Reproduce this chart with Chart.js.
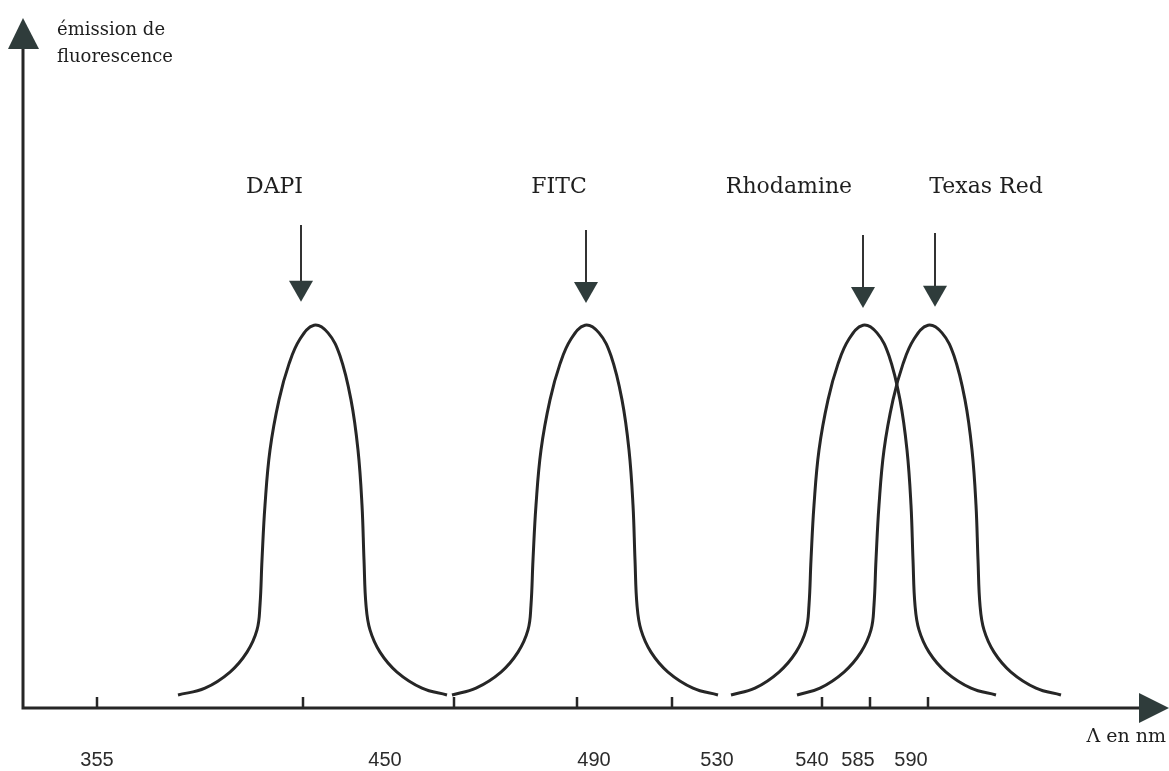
<!DOCTYPE html>
<html><head><meta charset="utf-8">
<script src="https://cdn.jsdelivr.net/npm/chart.js@4.4.0/dist/chart.umd.min.js"></script>
<style>html,body{margin:0;padding:0;background:#fff}#wrap{width:1169px;height:771px}</style>
</head><body><div id="wrap"><canvas id="c" width="1169" height="771"></canvas></div>
<script>
// Fluorophores (categories)
const fluorophores = ['DAPI', 'FITC', 'Rhodamine', 'Texas Red'];
// Emission profile (relative intensity, peak = 100), sampled along each curve's outline
const profile = [3.4, 5.2, 9.4, 14.6, 20.4, 26.9, 38.7, 53.0, 67.4, 80.5, 89.9, 96.4, 100, 98.0, 92.0, 80.5, 67.4, 53.0, 38.7, 26.9, 20.4, 14.6, 9.4, 5.2, 3.4];
// Positions along the (schematic) wavelength axis for each emission curve outline
const dapiX  = [178, 205, 230, 247, 257, 260, 262, 265, 270, 279, 289, 300, 314, 328, 340, 351, 358, 362, 364, 366, 370, 380, 397, 422, 447];
const fitcX  = [452, 476, 501, 518, 528, 531, 533, 536, 541, 550, 560, 571, 585, 599, 611, 622, 629, 633, 635, 637, 641, 651, 668, 693, 718];
const rhodX  = [731, 755, 779, 796, 806, 809, 811, 814, 819, 828, 838, 849, 863, 877, 889, 900, 907, 911, 913, 915, 919, 929, 946, 971, 996];
const texasX = [797, 820, 844, 861, 871, 874, 876, 879, 884, 893, 903, 914, 928, 942, 954, 965, 972, 976, 978, 980, 984, 994, 1011, 1036, 1061];
// Excitation arrows (position on axis, top and tip in intensity units)
const arrowX   = [301, 586, 863, 935];
const arrowTop = [126.2, 124.9, 123.6, 124.1];
const arrowTip = [106.1, 105.8, 104.5, 104.8];
const nameX    = [274.5, 559, 789, 986];
const nameY    = 134.5;
// Axis tick marks and tick labels (nm)
const tickPositions  = [97, 303, 454, 577, 672, 822, 870, 928];
const tickLabels     = ['355', '450', '490', '530', '540', '585', '590'];
const labelPositions = [97, 385, 594, 717, 812, 858, 911];

const seriesX = [dapiX, fitcX, rhodX, texasX];
const INK = '#262626', HEAD = '#2f3c3b';

const overlay = {
  id: 'overlay',
  afterDraw(chart) {
    const {ctx, chartArea: a, scales: {x, y}} = chart;
    ctx.save();
    // tick marks (pointing up)
    ctx.strokeStyle = INK; ctx.lineWidth = 2.5;
    tickPositions.forEach(v => {
      const px = x.getPixelForValue(v);
      ctx.beginPath(); ctx.moveTo(px, a.bottom); ctx.lineTo(px, a.bottom - 11); ctx.stroke();
    });
    // axes
    ctx.lineWidth = 3; ctx.lineJoin = 'miter';
    ctx.beginPath();
    ctx.moveTo(a.left, a.top + 28); ctx.lineTo(a.left, a.bottom); ctx.lineTo(a.right - 26, a.bottom);
    ctx.stroke();
    ctx.fillStyle = HEAD;
    ctx.beginPath(); ctx.moveTo(a.left, a.top - 1); ctx.lineTo(a.left - 15, a.top + 30); ctx.lineTo(a.left + 16, a.top + 30); ctx.closePath(); ctx.fill();
    ctx.beginPath(); ctx.moveTo(a.right, a.bottom); ctx.lineTo(a.right - 30, a.bottom - 15); ctx.lineTo(a.right - 30, a.bottom + 15); ctx.closePath(); ctx.fill();
    // excitation arrows + names
    fluorophores.forEach((name, i) => {
      const px = x.getPixelForValue(arrowX[i]);
      const top = y.getPixelForValue(arrowTop[i]);
      const tip = y.getPixelForValue(arrowTip[i]);
      ctx.strokeStyle = '#333'; ctx.lineWidth = 2;
      ctx.beginPath(); ctx.moveTo(px, top); ctx.lineTo(px, tip - 18); ctx.stroke();
      ctx.fillStyle = HEAD;
      ctx.beginPath(); ctx.moveTo(px - 12, tip - 21); ctx.lineTo(px + 12, tip - 21); ctx.lineTo(px, tip); ctx.closePath(); ctx.fill();
      ctx.fillStyle = '#1e1e1e'; ctx.font = '22px "DejaVu Serif"';
      ctx.textAlign = 'center'; ctx.textBaseline = 'alphabetic';
      ctx.fillText(name, x.getPixelForValue(nameX[i]), y.getPixelForValue(nameY));
    });
    // axis titles
    ctx.fillStyle = '#1e1e1e'; ctx.textAlign = 'left';
    ctx.font = '18px "DejaVu Serif"';
    ctx.fillText('émission de', a.left + 34, 35);
    ctx.fillText('fluorescence', a.left + 34, 62);
    ctx.textAlign = 'right'; ctx.font = '19px "DejaVu Serif"';
    ctx.fillText('Λ en nm', a.right - 3, 742);
    ctx.restore();
  }
};

new Chart(document.getElementById('c'), {
  type: 'line',
  data: {
    datasets: fluorophores.map((name, i) => ({
      label: name,
      data: seriesX[i].map((v, k) => ({x: v, y: profile[k]})),
      borderColor: INK,
      borderWidth: 3,
      pointRadius: 0,
      fill: false,
      tension: 0.4
    }))
  },
  options: {
    responsive: false,
    animation: false,
    layout: {padding: {left: 23, right: 0, top: 19, bottom: 0}},
    plugins: {legend: {display: false}, tooltip: {enabled: false}},
    scales: {
      x: {
        type: 'linear', min: 23, max: 1169,
        grid: {display: false, drawTicks: false},
        border: {display: false},
        afterBuildTicks: s => { s.ticks = labelPositions.map(v => ({value: v})); },
        afterFit: s => { s.height = 63; },
        ticks: {
          autoSkip: false, maxRotation: 0, padding: 40,
          color: '#2b2b2b', font: {family: '"Liberation Sans"', size: 20},
          callback: (v, i) => tickLabels[i]
        }
      },
      y: {type: 'linear', display: false, min: 0, max: 180}
    }
  },
  plugins: [overlay]
});
</script>
</body></html>
